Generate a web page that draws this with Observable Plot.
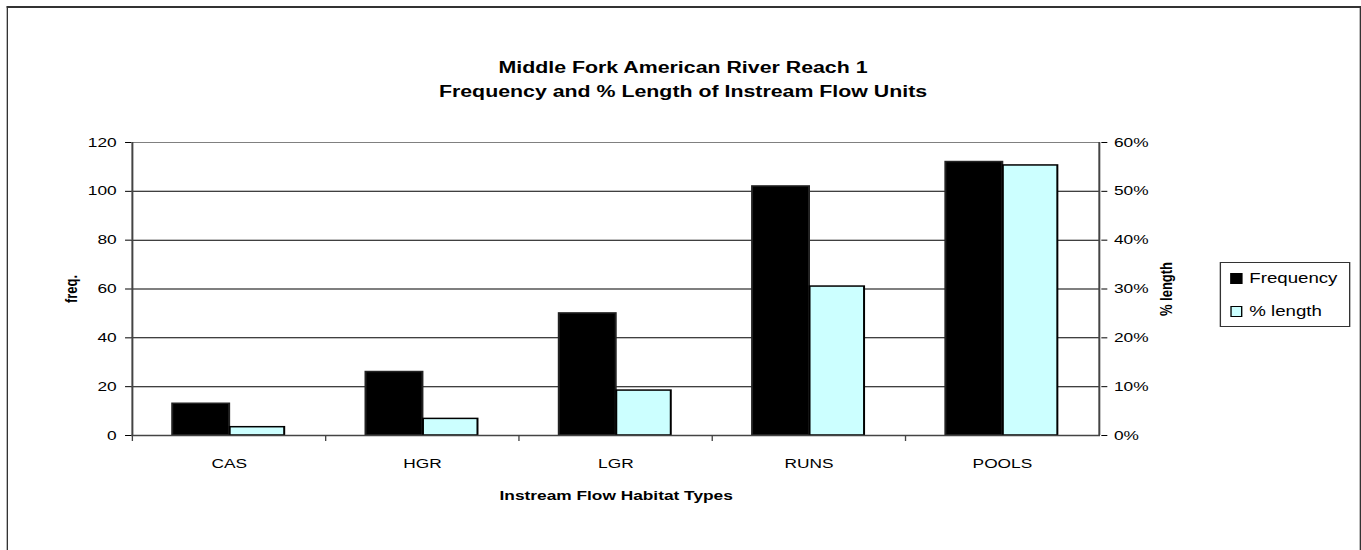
<!DOCTYPE html>
<html>
<head>
<meta charset="utf-8">
<script src="https://cdn.jsdelivr.net/npm/d3@7"></script>
<script src="https://cdn.jsdelivr.net/npm/@observablehq/plot@0.6"></script>
<style>
  html, body { margin: 0; padding: 0; background: #fff; overflow: hidden; width: 1361px; height: 550px; }
  #wrap {
    position: relative; width: 1021px; height: 550px;
    transform-origin: 0 0; transform: scaleX(1.333007);
    font-family: "Liberation Sans", Arial, sans-serif; color: #000;
  }
  #border {
    position: absolute; left: 5.25px; top: 6px; width: 1015.75px; height: 600px;
    box-sizing: border-box;
    border-top: 2px solid #333; border-left: 1.5px solid #333; border-right: 1.5px solid #333;
    pointer-events: none;
  }
  #title {
    position: relative; width: 1024.8px; height: 120px; box-sizing: border-box;
    padding-top: 56px; text-align: center; font-weight: bold; font-size: 16px; line-height: 24px;
  }
  #chart { position: relative; height: 430px; }
  #chart svg { display: block; }
  #legend {
    position: absolute; left: 915.2px; top: 262px; width: 97.6px; height: 65px;
    box-sizing: border-box; border: 1px solid #333; background: #fff;
    font-size: 14px;
  }
  .row { position: absolute; left: 7px; display: flex; align-items: center; height: 18px; white-space: nowrap; }
  .sw { width: 9px; height: 11px; box-sizing: border-box; margin-right: 5px; }
</style>
</head>
<body>
<div id="wrap">
  <div id="border"></div>
  <div id="title">Middle Fork American River Reach 1<br>Frequency and % Length of Instream Flow Units</div>
  <div id="chart"></div>
  <div id="legend"></div>
</div>
<script>
// ---- data ----
const categories = ["CAS", "HGR", "LGR", "RUNS", "POOLS"];
const frequency = [13, 26, 50, 102, 112];
const pctLength = [1.7, 3.4, 9.2, 30.5, 55.3];
const freqTicks = [0, 20, 40, 60, 80, 100, 120];
const freqMax = 120;
const pctMax = 60;
const seriesNames = ["Frequency", "% length"];
const seriesColors = ["#000000", "#CCFFFF"];

const unitPerPct = freqMax / pctMax;
const freqData = categories.map((c, i) => ({cat: c, value: frequency[i]}));
const pctData = categories.map((c, i) => ({cat: c, value: pctLength[i] * unitPerPct}));

const W = 1021, H = 430;
const mL = 98.3, mR = 195.8, mT = 22, mB = 115;
const bw = (W - mL - mR) / categories.length;

const chart = Plot.plot({
  width: W, height: H,
  marginTop: mT, marginBottom: mB, marginLeft: mL, marginRight: mR,
  style: {fontSize: "13px", fontFamily: "'Liberation Sans', Arial, sans-serif", color: "#000", background: "transparent", overflow: "visible"},
  x: {type: "band", domain: categories, padding: 0},
  y: {domain: [0, freqMax]},
  marks: [
    Plot.ruleY(freqTicks.filter(t => t > 0 && t < freqMax), {stroke: "#000", strokeWidth: 1}),
    Plot.ruleY([freqMax], {stroke: "#808080", strokeWidth: 1}),
    Plot.barY(freqData, {x: "cat", y: "value", fill: seriesColors[0], stroke: "#222", strokeWidth: 1.5, insetLeft: 30.2, insetRight: 72.1}),
    Plot.barY(pctData, {x: "cat", y: "value", fill: seriesColors[1], stroke: "#000", strokeWidth: 1.5, insetLeft: 73.3, insetRight: 30.8}),
    Plot.ruleY([0], {stroke: "#444", strokeWidth: 1.5}),
    Plot.ruleX([categories[0]], {dx: -bw / 2, stroke: "#444", strokeWidth: 1.5}),
    Plot.ruleX([categories[categories.length - 1]], {dx: bw / 2, stroke: "#444", strokeWidth: 1.5}),
    Plot.axisY({anchor: "left", ticks: freqTicks, tickSize: 4.5, tickPadding: 6.75, label: null}),
    Plot.axisY({anchor: "right", ticks: freqTicks, tickSize: 4.5, tickPadding: 5.5, tickFormat: d => `${d / unitPerPct}%`, label: null}),
    Plot.axisX({tickSize: 6, tickFormat: () => "", dx: -bw / 2, stroke: "#444", label: null}),
    Plot.axisX({tickSize: 0, tickPadding: 23, label: null}),
    Plot.text(["freq."], {text: d => d, frameAnchor: "left", dx: -45, rotate: -90, lineAnchor: "middle", textAnchor: "middle", fontWeight: "bold", fontSize: 13}),
    Plot.text(["% length"], {text: d => d, frameAnchor: "right", dx: 49, rotate: -90, lineAnchor: "middle", textAnchor: "middle", fontWeight: "bold", fontSize: 13}),
    Plot.text(["Instream Flow Habitat Types"], {text: d => d, frameAnchor: "bottom", dy: 60, lineAnchor: "middle", textAnchor: "middle", fontWeight: "bold", fontSize: 13})
  ]
});
document.getElementById("chart").appendChild(chart);

// legend
const legend = document.getElementById("legend");
const rowTops = [6, 39];
seriesNames.forEach((name, i) => {
  const row = document.createElement("div");
  row.className = "row";
  row.style.top = rowTops[i] + "px";
  const sw = document.createElement("span");
  sw.className = "sw";
  sw.style.background = seriesColors[i];
  sw.style.border = "1.5px solid #000";
  sw.style.borderLeftWidth = "1.1px";
  sw.style.borderRightWidth = "1.1px";
  const lbl = document.createElement("span");
  lbl.textContent = name;
  row.appendChild(sw);
  row.appendChild(lbl);
  legend.appendChild(row);
});
</script>
</body>
</html>
